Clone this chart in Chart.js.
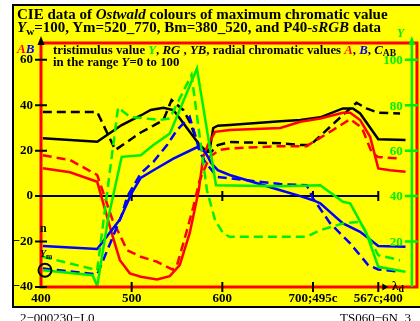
<!DOCTYPE html>
<html>
<head>
<meta charset="utf-8">
<script src="https://cdn.jsdelivr.net/npm/chart.js@4/dist/chart.umd.min.js"></script>
<style>
  html, body { margin:0; padding:0; background:#fff; }
  body { width:420px; height:321px; overflow:hidden; position:relative;
         font-family:'Liberation Serif','Times New Roman',serif; }
  #bg { position:absolute; left:12px; top:4px; width:410px; height:300px;
        background:#ffff00; border:2px solid #000; }
  #c { position:absolute; left:0; top:0; }
  .t { position:absolute; white-space:nowrap; font-weight:bold; line-height:1; color:#000; }
  .t sub { font-size:0.75em; vertical-align:-0.25em; line-height:0; }
  .r { color:#ff0000; } .b { color:#0000ff; } .g { color:#00ee00; }
</style>
</head>
<body>
<div id="bg"></div>
<canvas id="c" width="420" height="321"></canvas>

<div class="t" style="left:17px;top:7.4px;font-size:15px">CIE data of <i>Ostwald</i> colours of maximum chromatic value</div>
<div class="t" style="left:17px;top:20.4px;font-size:15px"><i>Y</i><sub>w</sub>=100, Ym=520_770, Bm=380_520, and P40-<i>sRGB</i> data</div>
<div class="t g" style="left:397px;top:27.3px;font-size:12px"><i>Y</i></div>
<div class="t" style="left:17px;top:41.8px;font-size:13px"><i class="r">A</i><i class="b">B</i></div>
<div class="t" style="left:53px;top:43.8px;font-size:12.8px">tristimulus value <i class="g">Y</i>, <i>RG</i> , <i>YB</i>, radial chromatic values <i class="r">A</i>, <i class="b">B</i>, <i>C</i><sub>AB</sub></div>
<div class="t" style="left:53px;top:56.3px;font-size:12.8px">in the range <i>Y</i>=0 to 100</div>
<div class="t" style="left:40px;top:222px;font-size:12px">n</div>
<div class="t" style="left:40px;top:249px;font-size:10px"><i>Y</i><sub>m</sub></div>
<div class="t" style="left:392px;top:279px;font-size:13px">λ<sub>d</sub></div>
<div class="t" style="left:20px;top:310.7px;font-size:13px;font-weight:normal">2−000230−L0</div>
<div class="t" style="left:340px;top:310.7px;font-size:13px;font-weight:normal">TS060−6N_3</div>

<script>
// ---- axis tick values / labels ----
const xTickValues = [400, 500, 600, 700, 772];
const xTickLabels = ['400', '500', '600', '700;495c', '567c;400'];
const yTickValues = [-40, -20, 0, 20, 40, 60];
const y2TickValues = [20, 40, 60, 80, 100];

// ---- C_AB (black) ----
const cabCieX = [402, 462, 489, 510, 521, 535, 546, 553, 564, 575, 581, 586, 590, 595, 608, 664, 686, 708, 733, 744, 752, 772, 802];
const cabCieY = [25.5, 23.9, 31.3, 35.5, 37.9, 38.9, 37.9, 34.3, 28.3, 22.5, 20.3, 20.3, 30, 31, 31.3, 33, 33.5, 34.7, 38.6, 38.6, 36.4, 25, 24.7];
const cabRgbX = [402, 462, 482, 510, 524, 535, 544, 557, 564, 573, 581, 588, 595, 608, 664, 686, 697, 711, 733, 748, 759, 772, 796];
const cabRgbY = [37, 37, 20.3, 28, 31, 33.5, 42.3, 37.9, 32.7, 23.3, 19.5, 19.5, 22.5, 23.8, 23.3, 22.5, 22.5, 27.6, 35.7, 41.1, 38.6, 36.7, 36.4];

// ---- A (red) ----
const aCieX = [402, 432, 462, 478, 487, 498, 510, 528, 542, 553, 564, 574, 579, 584, 592, 608, 664, 686, 708, 733, 741, 752, 763, 772, 785, 802];
const aCieY = [12.3, 10.5, 6.3, -16.3, -28.2, -34, -35.5, -36.7, -35.2, -30.4, -16.3, 2.6, 17.3, 22.5, 28.3, 29.1, 30, 32.7, 34.2, 36.7, 36.7, 33.5, 26.1, 12.2, 11.4, 10.7];
const aRgbX = [402, 432, 462, 479, 495, 510, 528, 545, 550, 559, 568, 575, 586, 597, 608, 664, 693, 722, 741, 754, 765, 772, 793];
const aRgbY = [18, 15.9, 9.3, -10.6, -23.8, -26.7, -28.9, -32.3, -30.4, -17.9, -4.7, 7, 17.3, 20.3, 21, 22, 22, 29.1, 33.9, 30, 19, 17.2, 16.6];

// ---- B (blue) ----
const bCieX = [402, 462, 487, 500, 510, 524, 546, 572, 581, 588, 595, 608, 664, 686, 700, 708, 733, 752, 772, 802];
const bCieY = [-22, -23.3, -10.3, 1.3, 8, 11.4, 16.5, 21.5, 19.5, 14.4, 11.4, 9.3, 2.6, 0, -1.8, -3.2, -12, -15.7, -22, -22.3];
const bRgbX = [402, 462, 480, 489, 495, 510, 524, 539, 550, 564, 570, 575, 581, 594, 664, 693, 700, 719, 741, 761, 772, 796];
const bRgbY = [-31.8, -34.5, -17.2, -8.4, -0.3, 10, 15.1, 22.5, 29.1, 34.9, 26.9, 19.5, 15.1, 8.5, 5.3, 4.8, -1, -12, -20.8, -30.4, -32.3, -33.3];

// ---- Y tristimulus (green, right axis 0..100) ----
const yCieX = [402, 457, 462, 474, 489, 510, 524, 542, 572, 593, 664, 708, 733, 741, 759, 772, 802];
const yCieY = [7.4, 5.2, 0.4, 30, 57.3, 58, 62.5, 67.5, 96.2, 44.8, 44.4, 44.8, 37.5, 36.8, 23.6, 8.9, 6.7];
const yRgbX = [402, 462, 485, 498, 531, 542, 566, 583, 592, 601, 608, 693, 708, 733, 752, 772, 796];
const yRgbY = [13.3, 7.4, 79, 74.9, 73.5, 74.2, 93.3, 42.6, 29.4, 23.6, 22.1, 22.1, 25, 28, 28.7, 14, 11.8];

const pts = (xs, ys) => xs.map((x, i) => ({ x: x, y: ys[i] }));
const GREEN = '#00ee00', RED = '#ff0000', BLUE = '#0000ff', BLACK = '#000000';
const DASH = [9, 5];
const ds = (xs, ys, color, dashed, axis) => ({
  data: pts(xs, ys), borderColor: color, borderWidth: 2.5, borderDash: dashed ? DASH : [],
  showLine: true, pointRadius: 0, fill: false, tension: 0, yAxisID: axis
});

const SERIF = "'Liberation Serif','Times New Roman',serif";

const decor = {
  id: 'decor',
  beforeDatasetsDraw(chart) {
    const { ctx, scales: { x, y } } = chart;
    ctx.save();
    ctx.strokeStyle = BLACK; ctx.lineWidth = 2;
    const y0 = y.getPixelForValue(0);
    ctx.beginPath();
    ctx.moveTo(x.getPixelForValue(xTickValues[0]), y0);
    ctx.lineTo(x.getPixelForValue(xTickValues[xTickValues.length - 1]), y0);
    xTickValues.slice(1).forEach(v => {
      const px = x.getPixelForValue(v);
      ctx.moveTo(px, y0 - 5); ctx.lineTo(px, y0 + 5);
    });
    ctx.stroke();
    ctx.restore();
  },
  afterDatasetsDraw(chart) {
    const { ctx, chartArea: ca, scales: { x, y, y2 } } = chart;
    ctx.save();
    ctx.strokeStyle = RED; ctx.lineWidth = 3;
    ctx.strokeRect(ca.left, ca.top, ca.right - ca.left, ca.bottom - ca.top);
    ctx.strokeStyle = BLACK; ctx.lineWidth = 2;
    ctx.beginPath();
    yTickValues.forEach(v => { const py = y.getPixelForValue(v); ctx.moveTo(ca.left - 6, py); ctx.lineTo(ca.left + 6, py); });
    xTickValues.slice(1).forEach(v => { const px = x.getPixelForValue(v); ctx.moveTo(px, ca.bottom - 5); ctx.lineTo(px, ca.bottom + 5); });
    ctx.stroke();
    ctx.fillStyle = BLACK;
    ctx.beginPath(); ctx.moveTo(ca.left, ca.top - 7); ctx.lineTo(ca.left - 3.5, ca.top + 2); ctx.lineTo(ca.left + 3.5, ca.top + 2); ctx.closePath(); ctx.fill();
    const ax = x.getPixelForValue(xTickValues[xTickValues.length - 1]);
    ctx.beginPath(); ctx.moveTo(ax + 10, ca.bottom); ctx.lineTo(ax + 4, ca.bottom - 3.5); ctx.lineTo(ax + 4, ca.bottom + 3.5); ctx.closePath(); ctx.fill();
    const gx = x.getPixelForValue(809);
    ctx.strokeStyle = GREEN; ctx.fillStyle = GREEN; ctx.lineWidth = 2.5;
    ctx.beginPath(); ctx.moveTo(gx, ca.top); ctx.lineTo(gx, ca.bottom);
    y2TickValues.forEach(v => { const py = y2.getPixelForValue(v); ctx.moveTo(gx - 7, py); ctx.lineTo(gx + 6, py); });
    ctx.stroke();
    ctx.beginPath(); ctx.moveTo(gx, ca.top - 7); ctx.lineTo(gx - 3.5, ca.top + 2); ctx.lineTo(gx + 3.5, ca.top + 2); ctx.closePath(); ctx.fill();
    ctx.font = 'bold 13px ' + SERIF; ctx.textAlign = 'right'; ctx.textBaseline = 'middle';
    y2TickValues.forEach(v => { ctx.fillText(String(v), gx - 9, y2.getPixelForValue(v) + 1); });
    ctx.strokeStyle = BLACK; ctx.lineWidth = 2;
    ctx.beginPath(); ctx.arc(x.getPixelForValue(404.4), y.getPixelForValue(-32.6), 6.5, 0, Math.PI * 2); ctx.stroke();
    ctx.restore();
  }
};

new Chart(document.getElementById('c'), {
  type: 'scatter',
  data: {
    datasets: [
      ds(yRgbX, yRgbY, GREEN, true, 'y2'),
      ds(yCieX, yCieY, GREEN, false, 'y2'),
      ds(bRgbX, bRgbY, BLUE, true, 'y'),
      ds(bCieX, bCieY, BLUE, false, 'y'),
      ds(aRgbX, aRgbY, RED, true, 'y'),
      ds(aCieX, aCieY, RED, false, 'y'),
      ds(cabRgbX, cabRgbY, BLACK, true, 'y'),
      ds(cabCieX, cabCieY, BLACK, false, 'y')
    ]
  },
  options: {
    responsive: false, animation: false, events: [],
    layout: { padding: { left: 0, right: 3, top: 43, bottom: 0 } },
    plugins: { legend: { display: false }, tooltip: { enabled: false }, title: { display: false } },
    scales: {
      x: {
        type: 'linear', min: 400, max: 814.7,
        afterBuildTicks: s => { s.ticks = xTickValues.map(v => ({ value: v })); },
        afterFit: s => { s.height = 34; },
        ticks: { autoSkip: false, maxRotation: 0, padding: 4, color: BLACK,
                 font: { family: SERIF, weight: 'bold', size: 13 },
                 callback: v => xTickLabels[xTickValues.indexOf(v)] },
        grid: { display: false, drawTicks: false }, border: { display: false }
      },
      y: {
        type: 'linear', min: -40, max: 67.4, position: 'left',
        afterBuildTicks: s => { s.ticks = yTickValues.map(v => ({ value: v })); },
        afterFit: s => { s.width = 41; },
        ticks: { padding: 8, color: BLACK, font: { family: SERIF, weight: 'bold', size: 13 },
                 callback: v => (v < 0 ? '−' + (-v) : String(v)) },
        grid: { display: false, drawTicks: false }, border: { display: false }
      },
      y2: {
        type: 'linear', min: 0, max: 107.4, position: 'right', display: false,
        grid: { display: false }
      }
    }
  },
  plugins: [decor]
});
</script>
</body>
</html>
